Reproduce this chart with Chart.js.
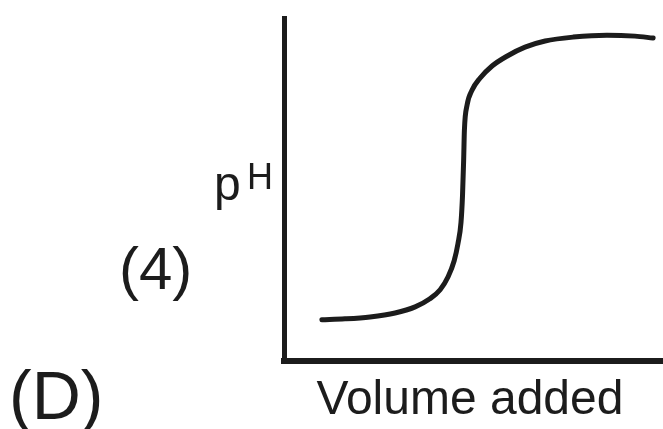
<!DOCTYPE html>
<html>
<head>
<meta charset="utf-8">
<script src="https://cdn.jsdelivr.net/npm/chart.js@4/dist/chart.umd.min.js"></script>
<style>
  html, body { margin: 0; padding: 0; background: #ffffff; }
  canvas { display: block; }
</style>
</head>
<body>
<canvas id="c" width="663" height="429"></canvas>
<script>
// Titration curve: pH against volume of titrant added
const volumeAdded = [10.0, 16.1, 22.7, 29.3, 34.6, 38.5, 41.2, 43.3, 44.9, 45.9, 46.7, 47.1,
                     47.4, 47.6, 48.3, 49.6, 51.7, 54.9, 58.8, 63.6, 68.9, 76.3, 85.2, 92.6, 97.4];
const pHValues    = [1.68, 1.72, 1.80, 1.96, 2.21, 2.54, 2.91, 3.44, 4.09, 4.79, 5.65, 6.75,
                     8.19, 9.42, 10.44, 11.05, 11.54, 12.04, 12.44, 12.81, 13.06, 13.22, 13.30, 13.26, 13.18];
const xRange = [0, 100];
const yRange = [0, 14];

const labelsText = {
  yMain: 'p',
  ySup: 'H',
  part: '(4)',
  option: '(D)',
  xTitle: 'Volume added'
};

const INK = '#1c1c1c';
const FONT = '"Liberation Sans", Arial, Helvetica, sans-serif';

const labelPlugin = {
  id: 'sketchLabels',
  afterDraw(chart) {
    const ctx = chart.ctx;
    ctx.save();
    ctx.fillStyle = INK;
    ctx.textBaseline = 'alphabetic';
    ctx.textAlign = 'left';
    ctx.font = '48px ' + FONT;
    ctx.fillText(labelsText.yMain, 214, 200);
    ctx.font = '36px ' + FONT;
    ctx.fillText(labelsText.ySup, 247, 189);
    ctx.font = '60px ' + FONT;
    ctx.fillText(labelsText.part, 119, 289);
    ctx.font = '68px ' + FONT;
    ctx.fillText(labelsText.option, 9, 419);
    ctx.font = '48px ' + FONT;
    ctx.textAlign = 'center';
    ctx.fillText(labelsText.xTitle, 470, 414);
    ctx.restore();
  }
};

new Chart(document.getElementById('c'), {
  type: 'scatter',
  data: {
    datasets: [{
      data: volumeAdded.map((v, i) => ({ x: v, y: pHValues[i] })),
      showLine: true,
      borderColor: INK,
      borderWidth: 5,
      borderCapStyle: 'round',
      borderJoinStyle: 'round',
      cubicInterpolationMode: 'monotone',
      pointRadius: 0,
      pointHoverRadius: 0,
      fill: false
    }]
  },
  options: {
    responsive: false,
    animation: false,
    devicePixelRatio: 1,
    layout: { padding: { left: 284, top: 18, right: 0, bottom: 68 } },
    plugins: {
      legend: { display: false },
      tooltip: { enabled: false },
      title: { display: false }
    },
    scales: {
      x: {
        type: 'linear',
        min: xRange[0],
        max: xRange[1],
        ticks: { display: false },
        grid: { display: false, drawTicks: false },
        border: { display: true, color: INK, width: 6 }
      },
      y: {
        type: 'linear',
        min: yRange[0],
        max: yRange[1],
        ticks: { display: false },
        grid: { display: false, drawTicks: false },
        border: { display: true, color: INK, width: 5 }
      }
    }
  },
  plugins: [labelPlugin]
});
</script>
</body>
</html>
